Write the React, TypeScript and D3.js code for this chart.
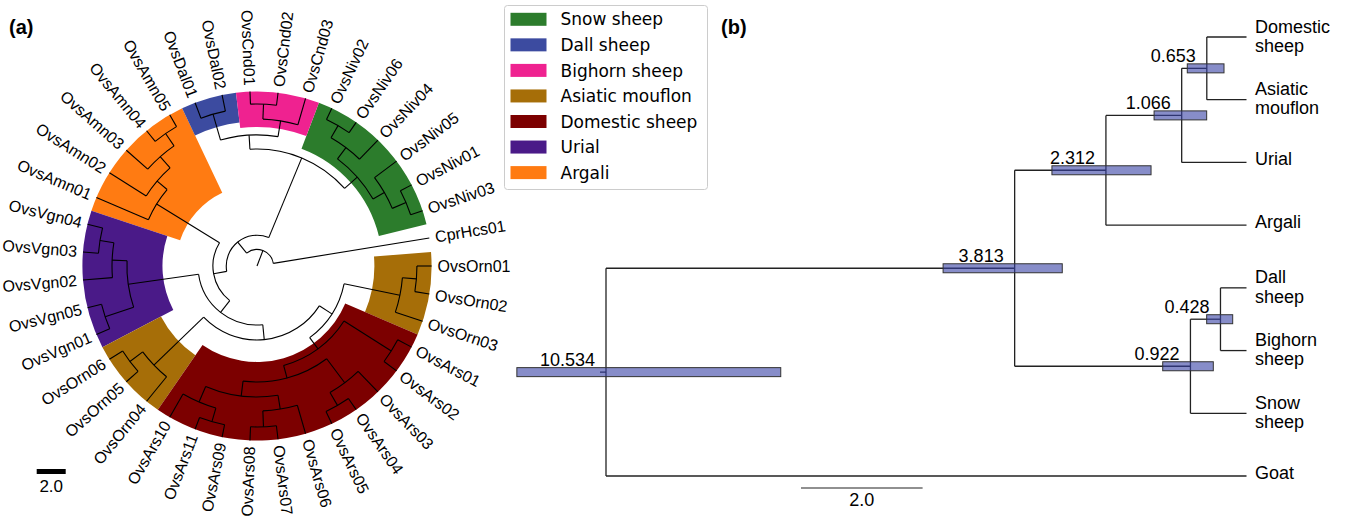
import React from 'react';
import * as d3 from 'd3';

// ---- panel (a): circular tree, branch lengths in tree units ----
const ornR = '((OvsOrn01:1.00,OvsOrn02:1.00):0.97,OvsOrn03:1.97)';
const ars = '((OvsArs01:1.07,OvsArs02:1.07):3.86,((OvsArs03:1.97,(OvsArs04:0.93,OvsArs05:0.93):1.03):2.07,((OvsArs06:2.03,(OvsArs07:0.93,OvsArs08:0.93):1.10):0.97,((OvsArs09:0.86,OvsArs11:0.86):0.97,OvsArs10:1.83):1.17):1.03):0.90)';
const ornL = '(OvsOrn04:2.17,(OvsOrn05:1.07,OvsOrn06:1.07):1.10)';
const urial = '((OvsVgn01:1.00,OvsVgn05:1.00):2.07,(OvsVgn02:2.03,(OvsVgn03:1.07,OvsVgn04:1.07):0.97):1.03)';
const argali = '(OvsAmn01:3.90,(OvsAmn02:3.00,(OvsAmn03:1.97,(OvsAmn04:0.93,OvsAmn05:0.93):1.03):1.03):0.90)';
const dallBighorn = '((OvsDal01:1.14,OvsDal02:1.14):1.86,((OvsCnd01:0.86,OvsCnd02:0.86):1.03,OvsCnd03:1.90):1.10)';
const snow = '(((OvsNiv02:0.86,OvsNiv06:0.86):0.97,OvsNiv04:1.83):0.97,(OvsNiv05:1.90,(OvsNiv01:0.86,OvsNiv03:0.86):1.03):0.90)';
const treeA = `((((((${ornR}:3.93,${ars}:0.97):1.03,${ornL}:4.76):1.03,${urial}:4.90):1.03,${argali}:5.10):0.92,(${dallBighorn}:0.97,${snow}:1.17):5.95):0.98,CprHcs01:10.90):1.14;`;

const species = ['Snow sheep', 'Dall sheep', 'Bighorn sheep', 'Asiatic mouflon', 'Domestic sheep', 'Urial', 'Argali'];
const speciesCodes = ['Niv', 'Dal', 'Cnd', 'Orn', 'Ars', 'Vgn', 'Amn'];
const speciesColors = ['#2c7c2c', '#3c4ba0', '#ef2290', '#a66e08', '#7c0000', '#4a1a88', '#ff7b12'];

// ---- panel (b): dated species tree (node labels = ages) ----
const treeB = '(((((Domestic sheep,Asiatic mouflon)0.653,Urial)1.066,Argali)2.312,((Dall sheep,Bighorn sheep)0.428,Snow sheep)0.922)3.813,Goat)10.534;';
const nodeAgesB = [0.653, 1.066, 2.312, 0.428, 0.922, 3.813, 10.534];
const hpdLowB = [0.37, 0.655, 1.57, 0.227, 0.546, 3.03, 7.66];
const hpdHighB = [0.974, 1.52, 3.2, 0.655, 1.378, 4.99, 12.0];

type NwNode = { name: string; length: number; children: NwNode[] };

function parseNewick(s: string): NwNode {
  let i = 0;
  function node(): NwNode {
    const n: NwNode = { name: '', length: 0, children: [] };
    if (s[i] === '(') {
      i++;
      n.children.push(node());
      while (s[i] === ',') { i++; n.children.push(node()); }
      i++; // ')'
    }
    let name = '';
    while (i < s.length && !',():;'.includes(s[i])) name += s[i++];
    n.name = name.trim();
    if (s[i] === ':') {
      i++;
      let num = '';
      while (i < s.length && !',();'.includes(s[i])) num += s[i++];
      n.length = +num;
    }
    return n;
  }
  return node();
}

const FONT = 'Liberation Sans, Arial, sans-serif';
const rad = (deg: number) => (deg * Math.PI) / 180;

function CircularTree() {
  const cx = 257, cy = 266;
  const rScale = d3.scaleLinear().domain([0, 2]).range([0, 29]);
  const root = d3.hierarchy(parseNewick(treeA), d => (d.children.length ? d.children : null)) as any;
  root.eachBefore((d: any) => { d.depthU = (d.parent ? d.parent.depthU : 0) + d.data.length; });
  const leaves = root.leaves();
  const step = 360 / leaves.length;
  const maxDepth = d3.max(leaves, (d: any) => d.depthU) as number;
  const R = rScale(maxDepth);
  leaves.forEach((l: any, i: number) => { l.angle = i * step; });
  root.eachAfter((d: any) => {
    if (d.children) d.angle = (d.children[0].angle + d.children[d.children.length - 1].angle) / 2;
    const codes = new Set<string>();
    (d.children ? d.leaves() : [d]).forEach((l: any) => codes.add(l.data.name.slice(3, 6)));
    d.codes = codes;
  });
  const radius = (d: any) => (d.children ? rScale(d.depthU) : R);
  const pt = (r: number, a: number) => [cx + r * Math.cos(rad(a)), cy + r * Math.sin(rad(a))];

  // coloured clades
  const wedges: any[] = [];
  root.each((d: any) => {
    if (d.codes.size !== 1 || !d.parent || d.parent.codes.size === 1) return;
    const k = speciesCodes.indexOf([...d.codes][0] as string);
    if (k < 0) return;
    const lv = d.leaves();
    wedges.push({
      color: speciesColors[k],
      inner: (rScale(d.parent.depthU) + rScale(d.depthU)) / 2,
      a0: lv[0].angle - step / 2,
      a1: lv[lv.length - 1].angle + step / 2,
    });
  });
  const arcGen = d3.arc<any>();

  const paths: string[] = [];
  root.each((d: any) => {
    const r0 = d.parent ? radius(d.parent) : 0;
    const r1 = radius(d);
    const [x0, y0] = pt(r0, d.angle);
    const [x1, y1] = pt(r1, d.angle);
    paths.push(`M${x0},${y0}L${x1},${y1}`);
    if (d.children) {
      const p = d3.path();
      const a0 = d.children[0].angle, a1 = d.children[d.children.length - 1].angle;
      const [sx, sy] = pt(r1, a0);
      p.moveTo(sx, sy);
      p.arc(cx, cy, r1, rad(a0), rad(a1), false);
      paths.push(p.toString());
    }
  });

  return (
    <g>
      {wedges.map((w, i) => (
        <path key={i} transform={`translate(${cx},${cy})`} fill={w.color}
          d={arcGen({ innerRadius: w.inner, outerRadius: R, startAngle: rad(w.a0 + 90), endAngle: rad(w.a1 + 90) }) as string} />
      ))}
      {paths.map((d, i) => <path key={i} d={d} fill="none" stroke="#000" strokeWidth={1.1} />)}
      {leaves.map((l: any) => {
        const [x, y] = pt(R + 6, l.angle);
        const flip = l.angle > 90 && l.angle < 270;
        return (
          <text key={l.data.name} transform={`translate(${x},${y}) rotate(${flip ? l.angle + 180 : l.angle})`}
            textAnchor={flip ? 'end' : 'start'} dominantBaseline="central" fontSize={16} fontFamily={FONT}>
            {l.data.name}
          </text>
        );
      })}
      <rect x={36.7} y={469} width={rScale(2)} height={5} fill="#000" />
      <text x={36.7 + rScale(2) / 2} y={492} textAnchor="middle" fontSize={17} fontFamily={FONT}>2.0</text>
    </g>
  );
}

function Legend() {
  const y = d3.scaleLinear().domain([0, 1]).range([19.3, 44.85]);
  return (
    <g>
      <rect x={504.5} y={5.5} width={203} height={184} rx={3} fill="#fff" stroke="#cccccc" />
      {species.map((s, i) => (
        <g key={s}>
          <rect x={510.5} y={y(i) - 6.5} width={36} height={13} fill={speciesColors[i]} />
          <text x={560.5} y={y(i)} dy="0.36em" fontSize={17} fontFamily="DejaVu Sans, sans-serif">{s}</text>
        </g>
      ))}
    </g>
  );
}

function DatedTree() {
  const root = d3.hierarchy(parseNewick(treeB), d => (d.children.length ? d.children : null)) as any;
  const leaves = root.leaves();
  const x = d3.scaleLinear().domain([0, 10.534]).range([1246.5, 606]);
  const y = d3.scalePoint<string>().domain(leaves.map((l: any) => l.data.name)).range([37, 476]);
  root.eachAfter((d: any) => {
    d.age = d.children ? +d.data.name : 0;
    d.x = x(d.age);
    d.y = d.children ? (d.children[0].y + d.children[d.children.length - 1].y) / 2 : (y(d.data.name) as number);
  });
  const lines: string[] = [];
  root.each((d: any) => {
    if (d.parent) lines.push(`M${d.parent.x},${d.y}H${d.x}`);
    else lines.push(`M${d.x - 6},${d.y}H${d.x}`);
    if (d.children) lines.push(`M${d.x},${d.children[0].y}V${d.children[d.children.length - 1].y}`);
  });
  const internals = root.descendants().filter((d: any) => d.children);
  return (
    <g>
      {lines.map((d, i) => <path key={i} d={d} fill="none" stroke="#222" strokeWidth={1.3} />)}
      {internals.map((d: any) => {
        const k = nodeAgesB.indexOf(d.age);
        return (
          <g key={d.data.name}>
            <rect x={x(hpdHighB[k])} y={d.y - 4.5} width={x(hpdLowB[k]) - x(hpdHighB[k])} height={9}
              fill="rgba(55,65,165,0.6)" stroke="#333" strokeWidth={1} />
            <text x={d.x - 11} y={d.y - 6} textAnchor="end" fontSize={18} fontFamily={FONT}>{d.data.name}</text>
          </g>
        );
      })}
      {leaves.map((l: any) => {
        const words = l.data.name.split(' ');
        return words.length > 1 ? (
          <text key={l.data.name} x={1255} y={l.y - 4.5} fontSize={18} fontFamily={FONT}>
            <tspan x={1255}>{words[0]}</tspan>
            <tspan x={1255} dy={19.2}>{words.slice(1).join(' ')}</tspan>
          </text>
        ) : (
          <text key={l.data.name} x={1255} y={l.y + 3} fontSize={18} fontFamily={FONT}>{l.data.name}</text>
        );
      })}
      <path d={`M801,488H${801 + x(0) - x(2)}`} stroke="#222" strokeWidth={1.2} />
      <text x={801 + (x(0) - x(2)) / 2} y={506} textAnchor="middle" fontSize={18} fontFamily={FONT}>2.0</text>
    </g>
  );
}

export default function App() {
  return (
    <svg width={1346} height={517} style={{ position: 'absolute', left: 0, top: 0, background: '#fff' }}>
      <text x={9} y={34} fontSize={20} fontWeight="bold" fontFamily={FONT}>(a)</text>
      <text x={721} y={34} fontSize={20} fontWeight="bold" fontFamily={FONT}>(b)</text>
      <CircularTree />
      <Legend />
      <DatedTree />
    </svg>
  );
}
